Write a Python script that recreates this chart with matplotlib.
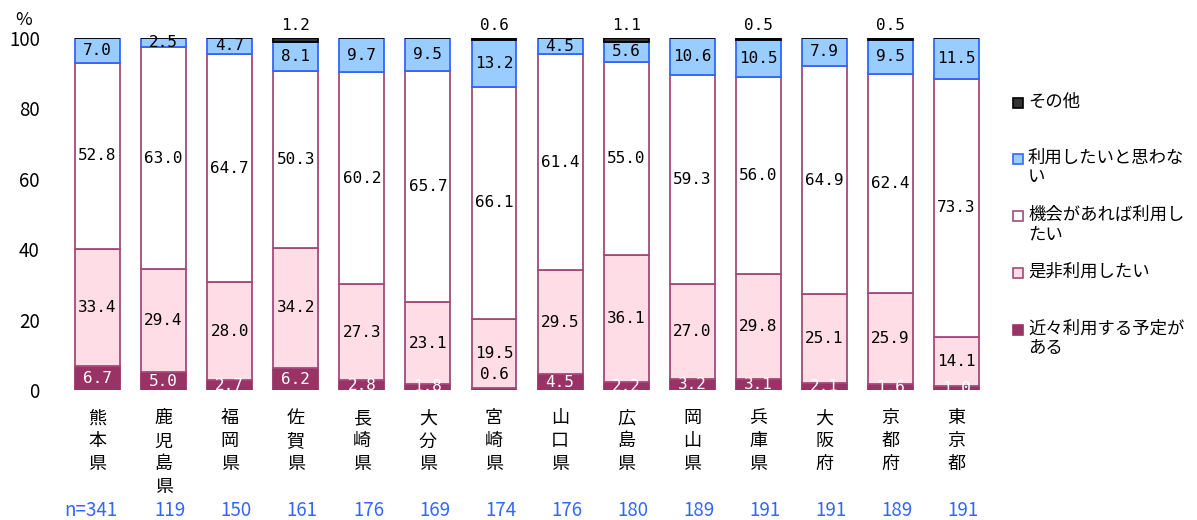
import matplotlib
matplotlib.use("Agg")
import matplotlib.pyplot as plt
from matplotlib.patches import Rectangle
from matplotlib.transforms import blended_transform_factory

plt.rcParams["font.family"] = ["Noto Sans CJK JP", "DejaVu Sans"]

prefectures = ["熊本県", "鹿児島県", "福岡県", "佐賀県", "長崎県", "大分県", "宮崎県",
               "山口県", "広島県", "岡山県", "兵庫県", "大阪府", "京都府", "東京都"]
n_counts = [341, 119, 150, 161, 176, 169, 174, 176, 180, 189, 191, 191, 189, 191]

soon = [6.7, 5.0, 2.7, 6.2, 2.8, 1.8, 0.6, 4.5, 2.2, 3.2, 3.1, 2.1, 1.6, 1.0]
definitely = [33.4, 29.4, 28.0, 34.2, 27.3, 23.1, 19.5, 29.5, 36.1, 27.0, 29.8, 25.1, 25.9, 14.1]
if_chance = [52.8, 63.0, 64.7, 50.3, 60.2, 65.7, 66.1, 61.4, 55.0, 59.3, 56.0, 64.9, 62.4, 73.3]
not_want = [7.0, 2.5, 4.7, 8.1, 9.7, 9.5, 13.2, 4.5, 5.6, 10.6, 10.5, 7.9, 9.5, 11.5]
other = [0, 0, 0, 1.2, 0, 0, 0.6, 0, 1.1, 0, 0.5, 0, 0.5, 0]

series = [
    ("近々利用する予定が\nある", soon, "#993366", "#993366", "white"),
    ("是非利用したい", definitely, "#FFDDE6", "#A34A78", "black"),
    ("機会があれば利用し\nたい", if_chance, "white", "#A34A78", "black"),
    ("利用したいと思わな\nい", not_want, "#99CCFF", "#3366FF", "black"),
    ("その他", other, "#333333", "black", "black"),
]

fig = plt.figure(figsize=(11.97, 5.20), dpi=100)
ax = fig.add_axes([0.0483, 0.25, 0.784, 0.677])

x = list(range(len(prefectures)))
width = 0.68
mono = "DejaVu Sans Mono"
lab_size = 11.5
bottom = [0.0] * len(x)
for name, vals, face, edge, tcol in series:
    ax.bar(x, vals, width, bottom=bottom, color=face, edgecolor=edge, linewidth=1.3)
    for i, v in enumerate(vals):
        if v <= 0:
            continue
        if name == "その他":
            ax.text(i, 100 + 3.4, f"{v:.1f}", ha="center", va="center",
                    fontsize=lab_size, family=mono, clip_on=False)
        elif name.startswith("近々") and v < 1:
            ax.text(i, v + 3.7, f"{v:.1f}", ha="center", va="center",
                    fontsize=lab_size, family=mono, color="black")
        else:
            ax.text(i, bottom[i] + v / 2, f"{v:.1f}", ha="center", va="center",
                    fontsize=lab_size, family=mono, color=tcol,
                    clip_on=name.startswith("近々"))
    bottom = [b + v for b, v in zip(bottom, vals)]

ax.set_xlim(-0.6, 13.6)
ax.set_ylim(0, 100)
ax.set_yticks(range(0, 101, 20))
ax.tick_params(axis="y", length=0, pad=13, labelsize=13.5)
ax.set_xticks(x)
ax.set_xticklabels(["\n".join(p) for p in prefectures], fontsize=13, linespacing=1.35)
ax.tick_params(axis="x", length=0, pad=14)
for s in ax.spines.values():
    s.set_visible(False)

fig.text(24 / 1197, 1 - 20 / 520, "%", ha="center", va="center", fontsize=13)

trans = blended_transform_factory(ax.transData, fig.transFigure)
for i, n in enumerate(n_counts):
    if i == 0:
        ax.text(i + 0.3, 1 - 510 / 520, f"n={n}", ha="right", va="center",
                fontsize=13.5, color="#3366FF", transform=trans)
    else:
        ax.text(i + 0.1, 1 - 510 / 520, str(n), ha="center", va="center",
                fontsize=13.5, color="#3366FF", transform=trans)

# legend, drawn by hand to follow the uneven spacing
legend_y = [330, 273, 216, 159, 103]
for (name, vals, face, edge, tcol), ly in zip(series, legend_y):
    fy = 1 - ly / 520
    fig.patches.append(Rectangle((1013 / 1197, fy - 5 / 520), 10 / 1197, 10 / 520,
                                 facecolor=face, edgecolor=edge, linewidth=1.2,
                                 transform=fig.transFigure))
    fig.text(1028 / 1197, fy + 10 / 520, name, ha="left", va="top", fontsize=12.5,
             linespacing=1.1)

fig.savefig("out.png", dpi=100)
